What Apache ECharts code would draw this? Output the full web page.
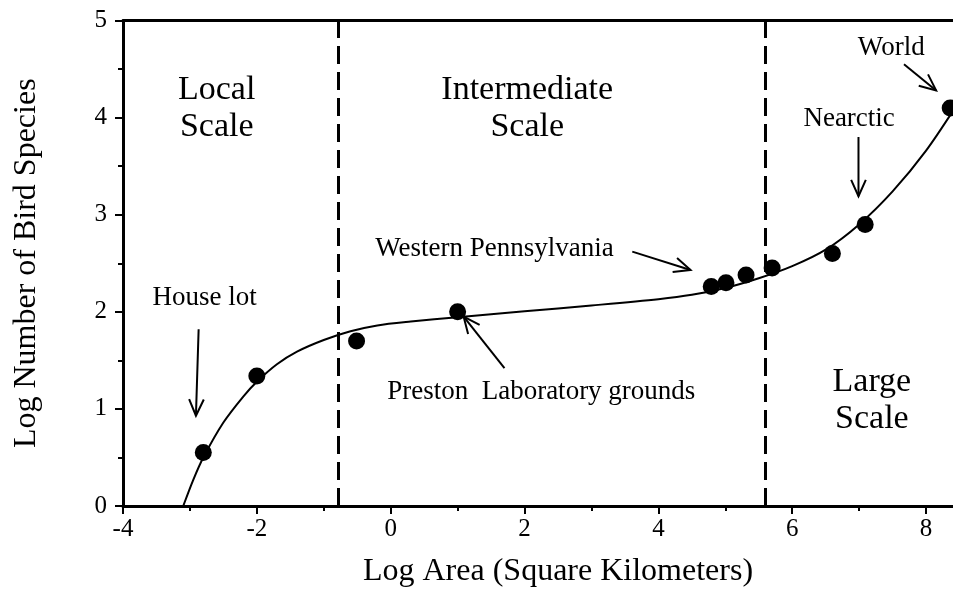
<!DOCTYPE html>
<html>
<head>
<meta charset="utf-8">
<script src="https://cdn.jsdelivr.net/npm/echarts@6/dist/echarts.min.js"></script>
<style>
  html, body { margin: 0; padding: 0; background: #fff; }
  #chart { width: 953px; height: 596px; }
</style>
</head>
<body>
<div id="chart"></div>
<script>
// observed sites (log area, log species)
const siteArea = [-2.80, -2.00, -0.51, 1.00, 4.79, 5.01, 5.31, 5.70, 6.60, 7.09, 8.36]
const siteSpecies = [0.55, 1.34, 1.70, 2.00, 2.26, 2.30, 2.38, 2.45, 2.60, 2.90, 4.10]

// fitted curve
const curveArea = [-3.10, -2.95, -2.80, -2.50, -2.20, -2.00, -1.70, -1.40, -1.00, -0.60, -0.20, 0.30, 1.00, 2.00, 3.00, 4.00, 4.50, 5.00, 5.50, 6.00, 6.50, 7.00, 7.50, 8.00, 8.45]
const curveSpecies = [0.00, 0.27, 0.50, 0.86, 1.13, 1.28, 1.46, 1.59, 1.71, 1.80, 1.86, 1.90, 1.945, 2.005, 2.065, 2.13, 2.175, 2.245, 2.345, 2.47, 2.64, 2.90, 3.24, 3.66, 4.12]

// boundaries between local / intermediate / large scale
const scaleBreaks = [-0.78, 5.6]

// text notes: [area, species] anchor and text
const noteText = ['Local\nScale', 'Intermediate\nScale', 'Large\nScale', 'House lot', 'Western Pennsylvania', 'Preston  Laboratory grounds', 'Nearctic', 'World']
const noteAt = [[-2.60, 4.09], [2.04, 4.09], [7.19, 1.09], [-2.78, 2.14], [1.55, 2.65], [2.25, 1.18], [6.85, 3.99], [7.48, 4.72]]
const noteSize = [34, 34, 34, 27, 27, 27, 27, 27]

// arrows: tail area, tail species, head area, head species
const arrows = [
  [-2.87, 1.82, -2.91, 0.93],
  [1.70, 1.42, 1.09, 1.95],
  [3.61, 2.62, 4.48, 2.43],
  [6.99, 3.80, 6.99, 3.19],
  [7.67, 4.55, 8.15, 4.28]
]

const font = '"Liberation Serif", "Times New Roman", serif'
const black = '#000'

const chart = echarts.init(document.getElementById('chart'))

const option = {
  animation: false,
  backgroundColor: '#fff',
  grid: { left: 123, right: -40, top: 20.5, bottom: 90, outerBoundsMode: 'none' },
  xAxis: [
    {
      type: 'value',
      min: -4,
      max: 9,
      interval: 2,
      name: 'Log Area (Square Kilometers)',
      nameLocation: 'middle',
      nameGap: 50,
      nameTextStyle: { fontFamily: font, fontSize: 32, color: black },
      axisLine: { onZero: false, lineStyle: { color: black, width: 3 } },
      axisTick: { length: 8, lineStyle: { color: black, width: 2 } },
      minorTick: { show: true, splitNumber: 2, length: 5, lineStyle: { color: black, width: 2 } },
      axisLabel: { fontFamily: font, fontSize: 25, color: black, margin: 11, showMaxLabel: false },
      splitLine: { show: false }
    },
    {
      type: 'value',
      position: 'top',
      min: -4,
      max: 9,
      axisLine: { show: true, onZero: false, lineStyle: { color: black, width: 3 } },
      axisTick: { show: false },
      axisLabel: { show: false },
      splitLine: { show: false }
    }
  ],
  yAxis: {
    type: 'value',
    min: 0,
    max: 5,
    interval: 1,
    name: 'Log Number of Bird Species',
    nameLocation: 'middle',
    nameGap: 80,
    nameTextStyle: { fontFamily: font, fontSize: 32, color: black },
    axisLine: { show: true, onZero: false, lineStyle: { color: black, width: 3 } },
    axisTick: { length: 8, lineStyle: { color: black, width: 2 } },
    minorTick: { show: true, splitNumber: 2, length: 5, lineStyle: { color: black, width: 2 } },
    axisLabel: { fontFamily: font, fontSize: 25, color: black, margin: 16 },
    splitLine: { show: false }
  },
  series: [
    {
      type: 'line',
      data: curveArea.map((x, i) => [x, curveSpecies[i]]),
      smooth: 0.3,
      symbol: 'none',
      lineStyle: { color: black, width: 2 },
      markLine: {
        silent: true,
        symbol: 'none',
        label: { show: false },
        lineStyle: { color: black, width: 3, type: [18, 8] },
        data: scaleBreaks.map(v => ({ xAxis: v }))
      },
      z: 2
    },
    {
      type: 'scatter',
      data: siteArea.map((x, i) => [x, siteSpecies[i]]),
      symbol: 'circle',
      symbolSize: 17,
      itemStyle: { color: black, opacity: 1, borderWidth: 0 },
      z: 3
    },
    {
      type: 'custom',
      data: arrows,
      encode: { x: [0, 2], y: [1, 3] },
      renderItem: function (params, api) {
        const a = api.coord([api.value(0), api.value(1)])
        const b = api.coord([api.value(2), api.value(3)])
        const ang = Math.atan2(b[1] - a[1], b[0] - a[0])
        const len = 18
        const spread = 0.42
        const h1 = [b[0] - len * Math.cos(ang - spread), b[1] - len * Math.sin(ang - spread)]
        const h2 = [b[0] - len * Math.cos(ang + spread), b[1] - len * Math.sin(ang + spread)]
        return {
          type: 'group',
          children: [
            { type: 'line', shape: { x1: a[0], y1: a[1], x2: b[0], y2: b[1] }, style: { stroke: black, lineWidth: 2 } },
            { type: 'polyline', shape: { points: [h1, b, h2] }, style: { stroke: black, lineWidth: 2, fill: null } }
          ]
        }
      },
      z: 4
    },
    {
      type: 'custom',
      data: noteAt,
      renderItem: function (params, api) {
        const p = api.coord([api.value(0), api.value(1)])
        const size = noteSize[params.dataIndex]
        return {
          type: 'text',
          x: p[0],
          y: p[1],
          style: {
            text: noteText[params.dataIndex],
            fill: black,
            font: size + 'px ' + font,
            lineHeight: Math.round(size * 1.08),
            align: 'center',
            verticalAlign: 'middle'
          }
        }
      },
      z: 5
    }
  ]
}

chart.setOption(option)
</script>
</body>
</html>
